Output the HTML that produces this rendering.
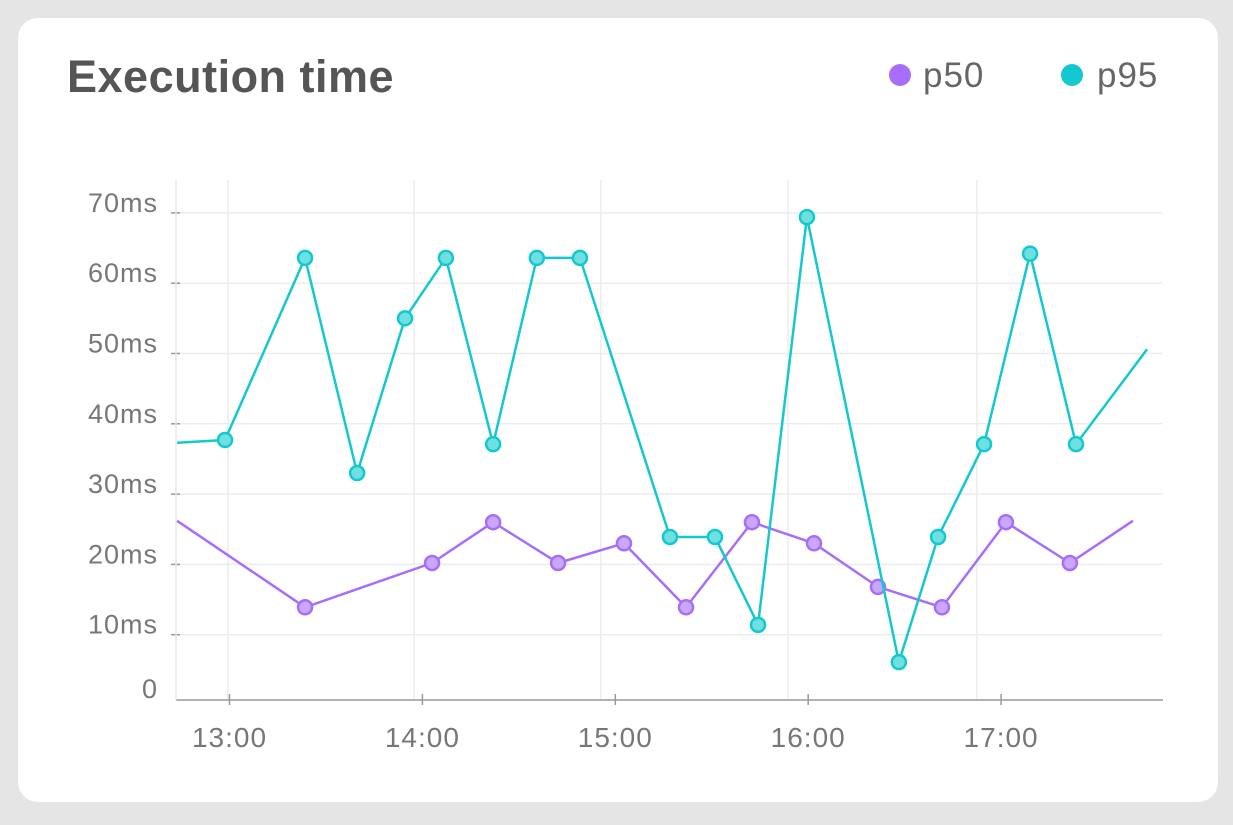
<!DOCTYPE html>
<html><head><meta charset="utf-8"><style>
html,body{margin:0;padding:0;background:#e5e5e5;}
body{width:1233px;height:820px;overflow:hidden;font-family:"Liberation Sans",sans-serif;}
</style></head><body>
<svg width="1233" height="820">
<rect x="0" y="0" width="1233" height="820" rx="30" fill="#e5e5e5"/>
<rect x="18" y="18" width="1200" height="784" rx="20" fill="#fff"/>
<text x="67" y="92" font-size="45" font-weight="bold" fill="#555" letter-spacing="0.5">Execution time</text>
<g>
<circle cx="900" cy="75" r="11" fill="#a66efa"/>
<text x="923" y="87" font-size="35" fill="#666" letter-spacing="1">p50</text>
<circle cx="1072" cy="75" r="11" fill="#14c8d0"/>
<text x="1097" y="87" font-size="35" fill="#666" letter-spacing="1">p95</text>
</g>
<g id="grid"></g><g id="axes"></g><g id="series"></g>
</svg>
<script>
const yTicks=[0,10,20,30,40,50,60,70];
const yTickLabels=["0","10ms","20ms","30ms","40ms","50ms","60ms","70ms"];
const xTicks=[0,60,120,180,240];
const xTickLabels=["13:00","14:00","15:00","16:00","17:00"];
const xGrid=[-0.5,57.4,115.5,173.7,232.5];
const p95Times=[-16.3,-1.4,23.5,39.7,54.6,67.3,82,95.6,109,137,151,164.4,179.6,208.2,220.4,234.7,249,263.3,285.4];
const p95Values=[37.3,37.7,63.6,33,55,63.6,37.1,63.6,63.6,23.9,23.9,11.4,69.4,6.1,23.9,37.1,64.2,37.1,50.6];
const p50Times=[-16.3,23.5,63.0,82,102.2,122.7,142,162.5,181.8,201.7,221.6,241.5,261.4,281];
const p50Values=[26.2,13.9,20.2,26,20.2,23,13.9,26,23,16.8,13.9,26,20.2,26.2];
const NS="http://www.w3.org/2000/svg";
const xs=m=>229.5+m*192.9/60;
const ys=v=>705-v*7.03;
function mk(tag,attrs,parent){const e=document.createElementNS(NS,tag);for(const k in attrs)e.setAttribute(k,attrs[k]);parent.appendChild(e);return e;}
const grid=document.getElementById('grid'),axes=document.getElementById('axes'),series=document.getElementById('series');
yTicks.forEach((v,i)=>{
 if(v>0){const g=mk('line',{x1:176,x2:1162,y1:ys(v),y2:ys(v),stroke:'#ececec','stroke-width':1.5},grid);
 
 
 const t=mk('line',{x1:171,x2:180,y1:ys(v),y2:ys(v),stroke:'#999','stroke-width':1.5},axes);
 
 }
 const l=mk('text',{x:158,y:(v>0?ys(v)-1:698),'text-anchor':'end','font-size':27,'letter-spacing':1,fill:'#777'},axes);
 l.textContent=yTickLabels[i];
 
 
});
xGrid.forEach(m=>{const g=mk('line',{x1:xs(m),x2:xs(m),y1:180,y2:700,stroke:'#ececec','stroke-width':1.5},grid);
 
 });
const ax=mk('line',{x1:176,x2:1163,y1:700,y2:700,stroke:'#999','stroke-width':1.5},axes);


const ay=mk('line',{x1:176,x2:176,y1:180,y2:700,stroke:'#e6e6e6','stroke-width':1.5},axes);


xTicks.forEach((m,i)=>{
 const t=mk('line',{x1:xs(m),x2:xs(m),y1:694,y2:705,stroke:'#999','stroke-width':1.5},axes);
 
 
 const l=mk('text',{x:xs(m),y:747,'text-anchor':'middle','font-size':28,'letter-spacing':1,fill:'#777'},axes);
 l.textContent=xTickLabels[i];
 
 
});
function drawSeries(times,vals,stroke,fill,name){
 const pts=times.map((t,i)=>xs(t)+','+ys(vals[i])).join(' ');
 const pl=mk('polyline',{points:pts,fill:'none',stroke:stroke,'stroke-width':2.5,'stroke-linejoin':'round'},series);
 
 
 times.forEach((t,i)=>{if(i===0||i===times.length-1)return;
  const c=mk('circle',{cx:xs(t),cy:ys(vals[i]),r:7,fill:fill,stroke:stroke,'stroke-width':2.5},series);
  
  });
}
drawSeries(p50Times,p50Values,'#a66efa','#c9a8fb','p50');
drawSeries(p95Times,p95Values,'#14c8d0','#6ee0e2','p95');
</script>
</body></html>
